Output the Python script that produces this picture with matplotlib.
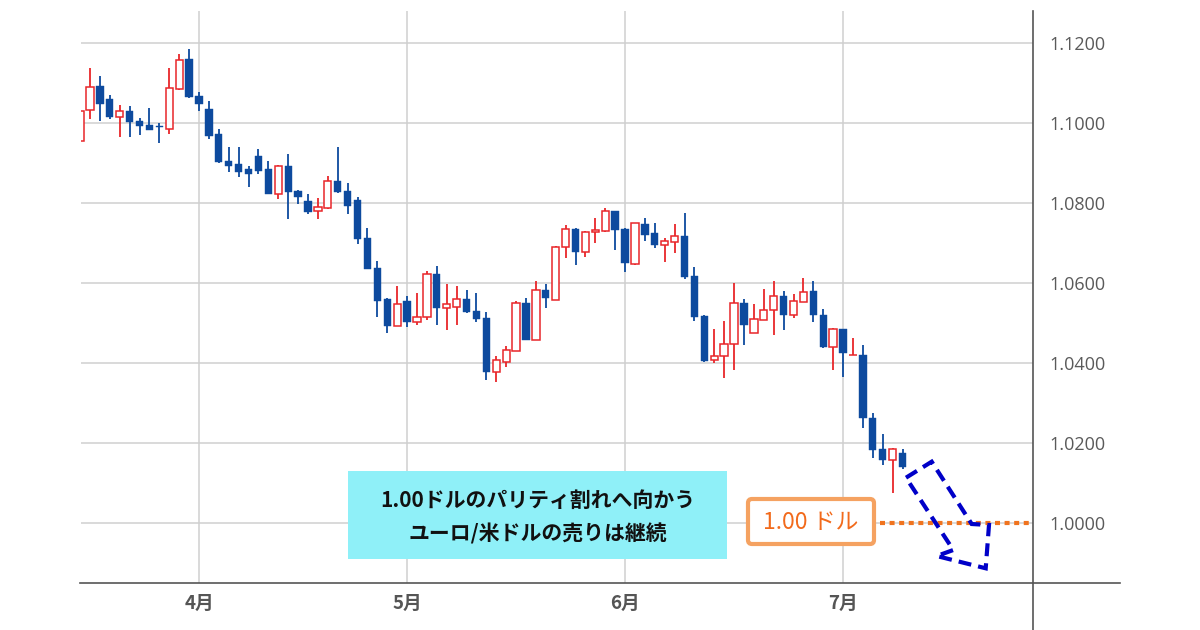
import matplotlib
matplotlib.use("Agg")
import matplotlib.pyplot as plt
from matplotlib.patches import Rectangle, FancyBboxPatch, Polygon
from matplotlib.lines import Line2D
import pandas as pd

plt.rcParams['font.family'] = ['Noto Sans CJK JP', 'DejaVu Sans']

# EUR/USD daily candles, 2022-03-16 .. 2022-07-11 (weekdays)
dates = pd.bdate_range('2022-03-16', '2022-07-11')
opens = [1.0955, 1.1033, 1.1092, 1.1059, 1.1016, 1.1030, 1.1006, 1.0995, 1.0993, 1.0985,
         1.1085, 1.1159, 1.1067, 1.1034, 1.0972, 1.0905, 1.0897, 1.0884, 1.0918, 1.0884,
         1.0823, 1.0893, 1.0830, 1.0805, 1.0781, 1.0787, 1.0855, 1.0830, 1.0808, 1.0713,
         1.0638, 1.0559, 1.0493, 1.0555, 1.0503, 1.0516, 1.0622, 1.0537, 1.0541, 1.0559,
         1.0530, 1.0513, 1.0378, 1.0403, 1.0431, 1.0551, 1.0458, 1.0583, 1.0558, 1.0691,
         1.0734, 1.0677, 1.0728, 1.0731, 1.0780, 1.0734, 1.0647, 1.0747, 1.0726, 1.0695,
         1.0703, 1.0718, 1.0618, 1.0518, 1.0408, 1.0418, 1.0448, 1.0551, 1.0476, 1.0508,
         1.0533, 1.0568, 1.0520, 1.0553, 1.0580, 1.0520, 1.0441, 1.0484, 1.0420, 1.0420,
         1.0263, 1.0184, 1.0158, 1.0176]
highs = [1.1035, 1.1138, 1.1118, 1.1070, 1.1045, 1.1043, 1.1013, 1.1038, 1.0999, 1.1138,
         1.1172, 1.1184, 1.1077, 1.1056, 1.0986, 1.0939, 1.0939, 1.0893, 1.0935, 1.0905,
         1.0895, 1.0922, 1.0832, 1.0822, 1.0813, 1.0868, 1.0939, 1.0851, 1.0816, 1.0738,
         1.0655, 1.0562, 1.0593, 1.0568, 1.0576, 1.0630, 1.0643, 1.0598, 1.0593, 1.0583,
         1.0576, 1.0528, 1.0418, 1.0443, 1.0555, 1.0563, 1.0605, 1.0597, 1.0693, 1.0745,
         1.0738, 1.0730, 1.0763, 1.0788, 1.0781, 1.0738, 1.0751, 1.0762, 1.0749, 1.0713,
         1.0747, 1.0776, 1.0641, 1.0519, 1.0484, 1.0505, 1.0599, 1.0559, 1.0547, 1.0584,
         1.0605, 1.0580, 1.0572, 1.0613, 1.0605, 1.0534, 1.0488, 1.0485, 1.0463, 1.0445,
         1.0274, 1.0222, 1.0188, 1.0184]
lows = [1.0953, 1.1009, 1.1006, 1.1009, 1.0964, 1.0964, 1.0969, 1.0982, 1.0949, 1.0972,
        1.1083, 1.1062, 1.1031, 1.0960, 1.0901, 1.0877, 1.0866, 1.0839, 1.0873, 1.0822,
        1.0810, 1.0760, 1.0798, 1.0773, 1.0760, 1.0786, 1.0826, 1.0773, 1.0698, 1.0634,
        1.0516, 1.0474, 1.0492, 1.0491, 1.0495, 1.0508, 1.0495, 1.0483, 1.0495, 1.0526,
        1.0502, 1.0358, 1.0353, 1.0391, 1.0430, 1.0457, 1.0457, 1.0537, 1.0557, 1.0662,
        1.0645, 1.0666, 1.0699, 1.0728, 1.0682, 1.0628, 1.0645, 1.0706, 1.0687, 1.0653,
        1.0674, 1.0611, 1.0506, 1.0402, 1.0399, 1.0362, 1.0383, 1.0445, 1.0475, 1.0507,
        1.0470, 1.0483, 1.0512, 1.0552, 1.0503, 1.0437, 1.0383, 1.0366, 1.0419, 1.0237,
        1.0162, 1.0145, 1.0074, 1.0135]
closes = [1.1030, 1.1091, 1.1048, 1.1014, 1.1030, 1.1003, 1.0993, 1.0983, 1.0990, 1.1087,
          1.1157, 1.1064, 1.1047, 1.0968, 1.0902, 1.0893, 1.0877, 1.0873, 1.0881, 1.0823,
          1.0893, 1.0827, 1.0814, 1.0777, 1.0791, 1.0855, 1.0827, 1.0793, 1.0709, 1.0635,
          1.0556, 1.0493, 1.0547, 1.0502, 1.0516, 1.0622, 1.0537, 1.0547, 1.0559, 1.0527,
          1.0510, 1.0378, 1.0408, 1.0433, 1.0551, 1.0458, 1.0583, 1.0562, 1.0691, 1.0734,
          1.0677, 1.0728, 1.0732, 1.0780, 1.0732, 1.0649, 1.0749, 1.0720, 1.0695, 1.0705,
          1.0718, 1.0614, 1.0514, 1.0406, 1.0418, 1.0447, 1.0549, 1.0495, 1.0511, 1.0533,
          1.0568, 1.0520, 1.0554, 1.0578, 1.0520, 1.0439, 1.0484, 1.0424, 1.0421, 1.0262,
          1.0183, 1.0158, 1.0184, 1.0141]

y_ticks = [1.00, 1.02, 1.04, 1.06, 1.08, 1.10, 1.12]
parity = 1.00
note_lines = ['1.00ドルのパリティ割れへ向かう', 'ユーロ/米ドルの売りは継続']
parity_label = '1.00 ドル'

UP = '#e8262a'
DOWN = '#0d4a9e'
GRID = '#cfcfcf'
AXIS = '#555555'

fig = plt.figure(figsize=(12, 6.3), dpi=100)
W, H = 1200, 630
ax = fig.add_axes([81 / W, 1 - 583 / H, (1033 - 81) / W, (583 - 11) / H])

# month boundaries -> first weekday of each month
month_idx = [i for i in range(1, len(dates)) if dates[i].month != dates[i - 1].month]
month_lbl = [f'{dates[i].month}月' for i in month_idx]

bw = 0.74
for i, (o, h, l, c) in enumerate(zip(opens, highs, lows, closes)):
    up = c >= o
    col = UP if up else DOWN
    ax.vlines(i, l, h, color=col, lw=1.3, zorder=2)
    lo, hi = min(o, c), max(o, c)
    if up:
        ax.add_patch(Rectangle((i - bw / 2, lo), bw, max(hi - lo, 0.00008),
                               facecolor='white', edgecolor=col, lw=1.1, zorder=3))
    else:
        ax.add_patch(Rectangle((i - bw / 2, lo), bw, max(hi - lo, 0.00008),
                               facecolor=col, edgecolor=col, lw=0.3, zorder=3))

ax.set_xlim(0.09, 96.17)
ax.set_ylim(0.985, 1.128)
for yv in y_ticks:
    ax.axhline(yv, color=GRID, lw=1.1, zorder=0)
for xv in month_idx:
    ax.axvline(xv, color=GRID, lw=1.1, zorder=0)

ax.yaxis.tick_right()
ax.set_yticks(y_ticks)
ax.set_yticklabels([f'{v:.4f}' for v in y_ticks], family='Open Sans', fontsize=13, color='#5a5a5a')
ax.tick_params(axis='y', length=0, pad=12)
ax.set_xticks(month_idx)
ax.set_xticklabels(month_lbl, fontsize=13.5, fontweight='bold', color='#555555')
ax.tick_params(axis='x', length=0, pad=8)
for s in ax.spines.values():
    s.set_visible(False)

# parity dotted line
ax.axhline(parity, xmin=(880 - 81) / 952, xmax=(1031 - 81) / 952, color='#f0731e',
           lw=3, ls=(0, (1.2, 1.1)), zorder=4)

# axis lines extended like the source chart
inch = fig.dpi_scale_trans
fig.add_artist(Line2D([80 / 100, 1120 / 100], [(H - 583) / 100] * 2, color=AXIS, lw=1.2, transform=inch))
fig.add_artist(Line2D([1033 / 100] * 2, [(H - 11) / 100, 0], color=AXIS, lw=1.2, transform=inch))

# cyan note box
fig.add_artist(Rectangle((348 / 100, (H - 559) / 100), 379 / 100, 88 / 100,
                         facecolor='#8ff0f8', edgecolor='none', transform=inch, zorder=5))
fig.text(538 / W, 1 - 500 / H, note_lines[0], ha='center', va='center',
         fontsize=15, fontweight='bold', color='#111111', zorder=6)
fig.text(538 / W, 1 - 534 / H, note_lines[1], ha='center', va='center',
         fontsize=15, fontweight='bold', color='#111111', zorder=6)

# orange parity label
fig.add_artist(FancyBboxPatch((748 / 100, (H - 544) / 100), 126 / 100, 45 / 100,
                              boxstyle='round,pad=0,rounding_size=0.04',
                              facecolor='white', edgecolor='#f5a261', lw=3,
                              transform=inch, zorder=5))
fig.text(811 / W, 1 - 522 / H, parity_label, ha='center', va='center',
         fontsize=16.5, color='#f26a1b', zorder=6)

# dashed block arrow
arrow_px = [(906, 477.7), (931.7, 461.7), (971.7, 524), (989, 525),
            (985.7, 568.3), (936.7, 556), (953.3, 550)]
fig.add_artist(Polygon([(x / 100, (H - y) / 100) for x, y in arrow_px], closed=True,
                       fill=False, edgecolor='#0000c8', lw=3, ls=(0, (3.1, 1.7)),
                       joinstyle='miter', transform=inch, zorder=6))

fig.savefig('out.png', dpi=100)
